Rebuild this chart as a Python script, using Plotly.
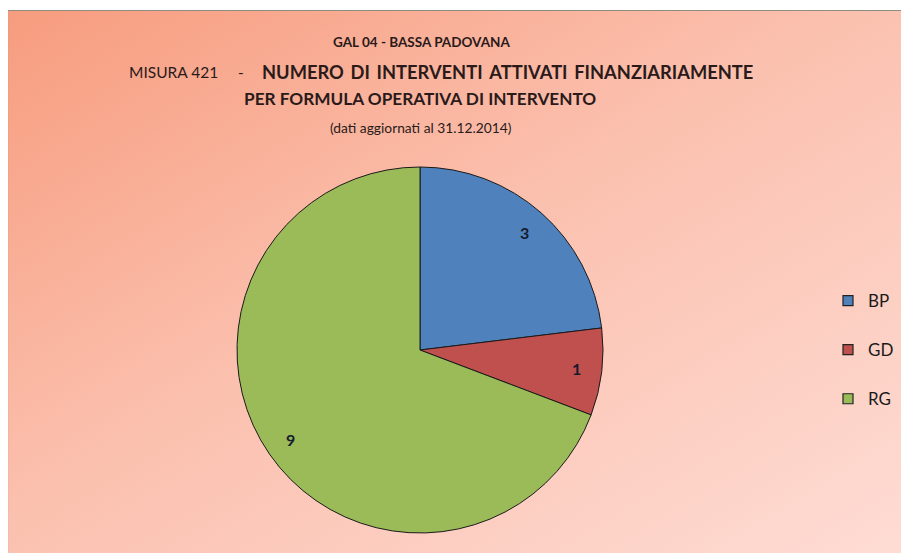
import math
import urllib.parse
import plotly.graph_objects as go

categories = ["BP", "GD", "RG"]
values = [3, 1, 9]
colors = ["#4F81BD", "#C0504D", "#9BBB59"]

title_lines = [
    "GAL 04 - BASSA PADOVANA",
    "NUMERO DI INTERVENTI ATTIVATI FINANZIARIAMENTE",
    "PER FORMULA OPERATIVA DI INTERVENTO",
    "(dati aggiornati al 31.12.2014)",
]
title_prefix = "MISURA 421"

# page body has an 8px margin: figure drawn from (8,8)
OFF = 8
W, H = 909 - OFF, 553 - OFF
FONT = "Lato"


def px(x):
    return (x - OFF) / W


def py(y):
    return 1 - (y - OFF) / H


svg = (
    "<svg xmlns='http://www.w3.org/2000/svg' width='900' height='550' preserveAspectRatio='none'>"
    "<defs><linearGradient id='g' x1='0' y1='0' x2='1' y2='1'>"
    "<stop offset='0' stop-color='#F79C7E'/>"
    "<stop offset='0.45' stop-color='#FBC0AE'/>"
    "<stop offset='1' stop-color='#FEDDD6'/>"
    "</linearGradient></defs>"
    "<rect x='0' y='0' width='900' height='550' fill='url(#g)'/>"
    "</svg>"
)
svg_uri = "data:image/svg+xml;charset=utf-8," + urllib.parse.quote(svg)

# pie geometry (screen px)
CX, CY, R = 420, 350, 183

fig = go.Figure()

fig.add_trace(go.Pie(
    labels=categories,
    values=values,
    sort=False,
    direction="clockwise",
    rotation=0,
    marker=dict(colors=colors, line=dict(color="#1a1a1a", width=1)),
    textinfo="none",
    domain=dict(x=[px(CX - R), px(CX + R)], y=[py(CY + R), py(CY - R)]),
    showlegend=False,
    hoverinfo="label+value",
))

# data labels placed near the outer edge of each slice (from the values)
total = sum(values)
cum = 0
for v in values:
    mid = (cum + v / 2) / total * 2 * math.pi
    cum += v
    rr = 0.86 * R
    lx = CX + rr * math.sin(mid)
    ly = CY - rr * math.cos(mid)
    fig.add_annotation(
        text=f"<b>{v}</b>", x=px(lx), y=py(ly), xref="paper", yref="paper",
        showarrow=False, xanchor="center", yanchor="middle",
        font=dict(family=FONT, size=16, color="#141b2d"),
    )

# legend entries
for c, col in zip(categories, colors):
    fig.add_trace(go.Scatter(
        x=[None], y=[None], mode="markers", name=c, legendgroup=c,
        marker=dict(symbol="square", size=10, color=col,
                    line=dict(color="#222222", width=1.2)),
        showlegend=True,
    ))

# titles
tcol = "#2a1a1a"
fig.add_annotation(
    text=f"<b>{title_lines[0]}</b>", x=px(421), y=py(42), xref="paper", yref="paper",
    xanchor="center", yanchor="middle", showarrow=False,
    font=dict(family=FONT, size=13.5, color=tcol),
)
fig.add_annotation(
    text=title_prefix, x=px(127), y=py(72), xref="paper", yref="paper",
    xanchor="left", yanchor="middle", showarrow=False,
    font=dict(family=FONT, size=15.5, color=tcol),
)
fig.add_annotation(
    text="-", x=px(241), y=py(72), xref="paper", yref="paper",
    xanchor="center", yanchor="middle", showarrow=False,
    font=dict(family=FONT, size=15.5, color=tcol),
)
fig.add_annotation(
    text="<b>" + title_lines[1].replace(" ", " &#8201;") + "</b>",
    x=px(508), y=py(72), xref="paper", yref="paper",
    xanchor="center", yanchor="middle", showarrow=False,
    font=dict(family=FONT, size=18.3, color=tcol),
)
fig.add_annotation(
    text=f"<b>{title_lines[2]}</b>", x=px(420), y=py(98), xref="paper", yref="paper",
    xanchor="center", yanchor="middle", showarrow=False,
    font=dict(family=FONT, size=17.2, color=tcol),
)
fig.add_annotation(
    text=title_lines[3], x=px(421), y=py(127), xref="paper", yref="paper",
    xanchor="center", yanchor="middle", showarrow=False,
    font=dict(family=FONT, size=13.8, color=tcol),
)

fig.update_layout(
    width=W, height=H,
    margin=dict(l=0, r=0, t=0, b=0),
    paper_bgcolor="white",
    plot_bgcolor="rgba(0,0,0,0)",
    xaxis=dict(visible=False),
    yaxis=dict(visible=False),
    showlegend=True,
    legend=dict(
        x=px(828), y=py(350), xanchor="left", yanchor="middle",
        font=dict(family=FONT, size=17, color="#1a1a1a"),
        tracegroupgap=24, itemwidth=30, bgcolor="rgba(0,0,0,0)",
    ),
    images=[dict(
        source=svg_uri, xref="paper", yref="paper",
        x=px(7), y=py(10), sizex=1.02, sizey=1.02,
        xanchor="left", yanchor="top", sizing="stretch", layer="below",
    )],
    shapes=[dict(
        type="rect", xref="paper", yref="paper",
        x0=px(7.5), y0=-0.05, x1=1.05, y1=py(10.5),
        line=dict(color="#8c8c80", width=1.2), fillcolor="rgba(0,0,0,0)",
        layer="above",
    )],
)

fig.write_html("out.html")
